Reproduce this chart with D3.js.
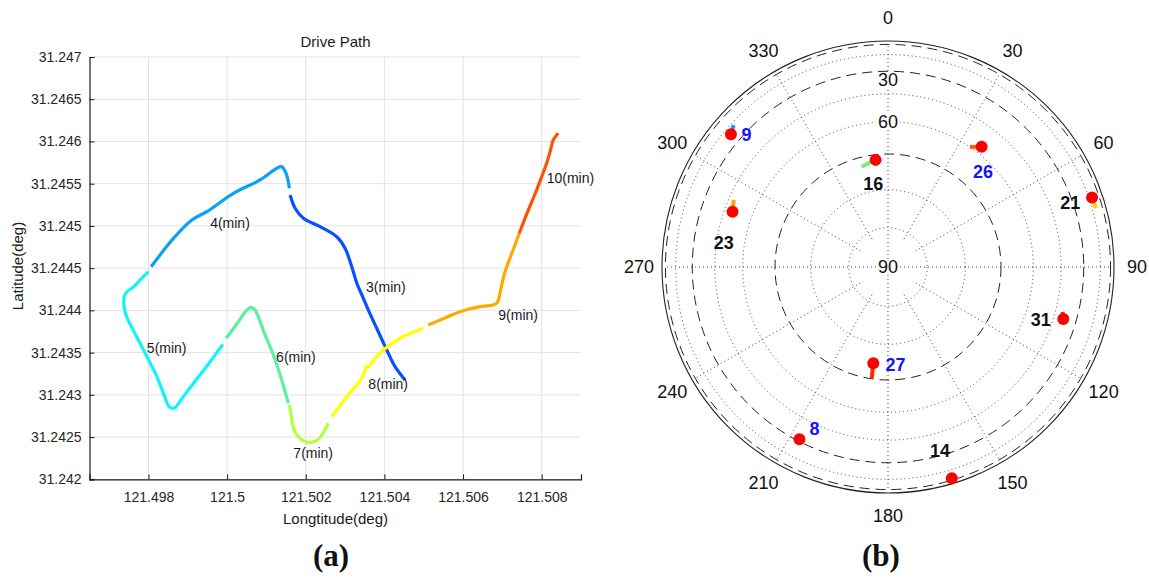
<!DOCTYPE html>
<html><head><meta charset="utf-8">
<script src="https://cdn.jsdelivr.net/npm/d3@7"></script>
<style>
body{margin:0;background:#fff;}
svg{display:block;}
text{font-family:"Liberation Sans",Arial,Helvetica,sans-serif;}
</style>
</head><body>
<svg id="chart" width="1149" height="578"></svg>
<script>
// ---------------- DATA ----------------
// (a) drive path, one array pair per minute
const minutes = [3, 4, 5, 6, 7, 8, 9, 10];
const lon3 = [121.504525,121.504271,121.504060,121.503805,121.503592,121.503465,121.503297,121.503170,121.503000,121.502789,121.502364,121.501940,121.501729,121.501602];
const lat3 = [31.243176,31.243333,31.243531,31.243788,31.244004,31.244143,31.244324,31.244517,31.244735,31.244872,31.244991,31.245090,31.245209,31.245366];
const lon4 = [121.501584,121.501500,121.501391,121.501297,121.500839,121.500160,121.499484,121.499103,121.498635,121.498373,121.498068];
const lat4 = [31.245445,31.245623,31.245701,31.245692,31.245544,31.245386,31.245168,31.245070,31.244853,31.244703,31.244517];
const lon5 = [121.498000,121.497789,121.497618,121.497471,121.497395,121.497369,121.497395,121.497458,121.497662,121.497873,121.498213,121.498424,121.498513,121.498595,121.498691,121.498806,121.499144,121.499568,121.499891];
const lat5 = [31.244458,31.244360,31.244277,31.244229,31.244182,31.244099,31.244004,31.243910,31.243720,31.243531,31.243215,31.242963,31.242868,31.242841,31.242856,31.242927,31.243137,31.243392,31.243598];
const lon6 = [121.499975,121.500229,121.500501,121.500603,121.500687,121.500755,121.500966,121.501177,121.501373,121.501558];
const lat6 = [31.243669,31.243827,31.244004,31.244036,31.244016,31.243965,31.243709,31.243472,31.243199,31.242900];
const lon7 = [121.501584,121.501627,121.501665,121.501772,121.501907,121.502110,121.502321,121.502440,121.502575];
const lat7 = [31.242880,31.242761,31.242643,31.242525,31.242465,31.242433,31.242474,31.242548,31.242663];
const lon8 = [121.502662,121.503043,121.503424,121.503495,121.503551,121.503610,121.503686,121.503973,121.504398,121.504990];
const lat8 = [31.242741,31.242978,31.243196,31.243270,31.243341,31.243336,31.243389,31.243531,31.243669,31.243788];
const lon9 = [121.505117,121.505542,121.505923,121.506431,121.506769,121.506863,121.506914,121.506983,121.507067,121.507194,121.507321,121.507430];
const lat9 = [31.243827,31.243910,31.243984,31.244044,31.244064,31.244087,31.244147,31.244300,31.244454,31.244620,31.244774,31.244913];
const lon10 = [121.507430,121.507651,121.507872,121.508007,121.508127,121.508211,121.508294,121.508363,121.508422];
const lat10 = [31.244913,31.245177,31.245425,31.245591,31.245741,31.245875,31.246017,31.246065,31.246097];

// minute label anchors (lon, lat)
const minuteLabelText = ["3(min)","4(min)","5(min)","6(min)","7(min)","8(min)","9(min)","10(min)"];
const minuteLabelLon = [121.503533,121.499568,121.497959,121.501246,121.501685,121.503592,121.506896,121.508127];
const minuteLabelLat = [31.244277,31.245035,31.243551,31.243452,31.242308,31.243128,31.243945,31.245564];

const xTicks = [121.498, 121.5, 121.502, 121.504, 121.506, 121.508];
const xTickLabels = ["121.498","121.5","121.502","121.504","121.506","121.508"];
const yTicks = [31.242, 31.2425, 31.243, 31.2435, 31.244, 31.2445, 31.245, 31.2455, 31.246, 31.2465, 31.247];
const yTickLabels = ["31.242","31.2425","31.243","31.2435","31.244","31.2445","31.245","31.2455","31.246","31.2465","31.247"];

// (b) sky plot
const satIds = ["9","16","26","21","23","31","27","8","14"];
const satAz  = [310.2, 353.4, 37.9, 71.2, 289.6, 106.5, 188.7, 207.2, 163.2];
const satEl  = [24.5, 61.5, 47.6, 17.5, 43.1, 36.0, 64.5, 31.0, 12.4];
const satFlag = [1, 0, 1, 0, 0, 0, 1, 1, 0];
const trackAz = [312.6, 345.3, 34.3, 74.2, 293.5, 104.4, 188.3, null, null];
const trackEl = [21.9, 62.7, 50.0, 17.0, 41.9, 37.1, 60.1, null, null];
const azTicks = [0, 30, 60, 90, 120, 150, 180, 210, 240, 270, 300, 330];
const dottedRingEl = [80, 70, 50, 40, 20];
const dashedRingEl = [60, 30, 10];
const elevLabels = ["30", "60", "90"];

// ---------------- STYLE / LAYOUT ----------------
const minuteColors = ["#0a50ff","#0aa2f5","#10f4ff","#5cf0a0","#b4ff3c","#ffff00","#ffa800","#ff5200"];
const trackColors = ["#1e96ff","#78f078","#ff5a14","#ffd400","#ffa000","#ff2a00","#ff2a00"];
const labelOffsets = {"9":[15.7,0.7],"16":[-2.4,24],"26":[1.3,25.6],"21":[-21.7,5],"23":[-8.7,31.6],"31":[-22.6,1],"27":[22.2,1.7],"8":[15,-10.3],"14":[-11.7,-27.6]};

const svg = d3.select("#chart");

// ---------------- (a) ----------------
const x = d3.scaleLinear().domain([121.4965, 121.509]).range([89.5, 581]);
const y = d3.scaleLinear().domain([31.242, 31.247]).range([479.3, 57]);

const ga = svg.append("g");
// grid
ga.append("g").selectAll("line").data(xTicks).join("line")
  .attr("x1", d => x(d)).attr("x2", d => x(d)).attr("y1", y(31.247)).attr("y2", y(31.242))
  .attr("stroke", "#e3e3e3").attr("stroke-width", 1);
ga.append("g").selectAll("line").data(yTicks).join("line")
  .attr("x1", x.range()[0]).attr("x2", x.range()[1]).attr("y1", d => y(d)).attr("y2", d => y(d))
  .attr("stroke", "#e3e3e3").attr("stroke-width", 1);

// axes
const xAxis = d3.axisBottom(x).tickValues(xTicks).tickFormat((d, i) => xTickLabels[i]).tickSize(-5).tickPadding(13);
const yAxis = d3.axisLeft(y).tickValues(yTicks).tickFormat((d, i) => yTickLabels[i]).tickSize(-5).tickPadding(8);
const gx = ga.append("g").attr("transform", `translate(0,${y(31.242)})`).call(xAxis);
const gy = ga.append("g").attr("transform", `translate(${x(121.4965)},0)`).call(yAxis);
[gx, gy].forEach(g => {
  g.select(".domain").attr("stroke", "#1a1a1a").attr("stroke-width", 1.2);
  g.selectAll(".tick line").attr("stroke", "#1a1a1a");
  g.selectAll(".tick text").attr("fill", "#262626").style("font-size", "14px").attr("font-family", null);
});
gy.selectAll(".tick text").attr("x", -8);

// path segments
const segLon = [lon3, lon4, lon5, lon6, lon7, lon8, lon9, lon10];
const segLat = [lat3, lat4, lat5, lat6, lat7, lat8, lat9, lat10];
const line = d3.line().x(d => x(d[0])).y(d => y(d[1])).curve(d3.curveCatmullRom.alpha(0.5));
ga.append("g").selectAll("path").data(minutes).join("path")
  .attr("d", (m, i) => line(segLon[i].map((v, j) => [v, segLat[i][j]])))
  .attr("fill", "none").attr("stroke", (m, i) => minuteColors[i])
  .attr("stroke-width", 3.2).attr("stroke-linejoin", "round").attr("stroke-linecap", "butt");

// minute labels
ga.append("g").selectAll("text").data(minuteLabelText).join("text")
  .attr("x", (d, i) => x(minuteLabelLon[i])).attr("y", (d, i) => y(minuteLabelLat[i]))
  .attr("dominant-baseline", "central").style("font-size", "14px").attr("fill", "#1a1a1a")
  .text(d => d);

// titles
ga.append("text").attr("x", 335.5).attr("y", 47).attr("text-anchor", "middle")
  .style("font-size", "15px").attr("fill", "#1a1a1a").text("Drive Path");
ga.append("text").attr("x", 335.5).attr("y", 524).attr("text-anchor", "middle")
  .style("font-size", "15px").attr("fill", "#1a1a1a").text("Longtitude(deg)");
ga.append("text").attr("transform", "translate(23,266) rotate(-90)").attr("text-anchor", "middle")
  .style("font-size", "15px").attr("fill", "#1a1a1a").text("Latitude(deg)");
svg.append("text").attr("x", 331).attr("y", 566).attr("text-anchor", "middle")
  .style("font-family", "'Liberation Serif','Times New Roman',serif").style("font-weight", "bold")
  .style("font-size", "31px").attr("fill", "#111").text("(a)");

// ---------------- (b) ----------------
const cx = 888, cy = 267, R = 226;
const rScale = el => R * Math.cos(el * Math.PI / 180);
const pol = (az, r) => [cx + r * Math.sin(az * Math.PI / 180), cy - r * Math.cos(az * Math.PI / 180)];

const gb = svg.append("g");
// outer solid circle (elevation 0)
gb.append("circle").attr("cx", cx).attr("cy", cy).attr("r", rScale(0))
  .attr("fill", "none").attr("stroke", "#222").attr("stroke-width", 1.1);
gb.append("g").selectAll("circle").data(dashedRingEl).join("circle")
  .attr("cx", cx).attr("cy", cy).attr("r", d => rScale(d))
  .attr("fill", "none").attr("stroke", "#222").attr("stroke-width", 1).attr("stroke-dasharray", "10,6");
gb.append("g").selectAll("circle").data(dottedRingEl).join("circle")
  .attr("cx", cx).attr("cy", cy).attr("r", d => rScale(d))
  .attr("fill", "none").attr("stroke", "#444").attr("stroke-width", 1).attr("stroke-dasharray", "1,3");
// spokes
gb.append("g").selectAll("line").data(azTicks).join("line")
  .attr("x1", d => pol(d, d % 90 === 0 ? 0 : 32)[0]).attr("y1", d => pol(d, d % 90 === 0 ? 0 : 32)[1])
  .attr("x2", d => pol(d, rScale(10))[0]).attr("y2", d => pol(d, rScale(10))[1])
  .attr("stroke", "#444").attr("stroke-width", 1).attr("stroke-dasharray", "1,3");

// azimuth labels
gb.append("g").selectAll("text").data(azTicks).join("text")
  .attr("x", d => pol(d, 249)[0]).attr("y", d => pol(d, 249)[1])
  .attr("text-anchor", "middle").attr("dominant-baseline", "central")
  .style("font-size", "18px").attr("fill", "#111").text(d => String(d));

// elevation labels (with white background)
const elevLabelR = [187, 145, 0];
const elg = gb.append("g").selectAll("g").data(elevLabels).join("g")
  .attr("transform", (d, i) => `translate(${cx},${cy - elevLabelR[i]})`);
elg.append("rect").attr("x", -12).attr("y", -8).attr("width", 24).attr("height", 16).attr("fill", "#fff");
elg.append("text").attr("text-anchor", "middle").attr("dominant-baseline", "central")
  .style("font-size", "18px").attr("fill", "#111").text(d => d);

// satellite tracks
const tracks = satIds.map((id, i) => ({id, i})).filter(d => trackAz[d.i] !== null);
gb.append("g").selectAll("line").data(tracks).join("line")
  .attr("x1", d => pol(satAz[d.i], rScale(satEl[d.i]))[0]).attr("y1", d => pol(satAz[d.i], rScale(satEl[d.i]))[1])
  .attr("x2", d => pol(trackAz[d.i], rScale(trackEl[d.i]))[0]).attr("y2", d => pol(trackAz[d.i], rScale(trackEl[d.i]))[1])
  .attr("stroke", (d, k) => trackColors[k]).attr("stroke-width", 4);

// satellite dots
gb.append("g").selectAll("circle").data(satIds).join("circle")
  .attr("cx", (d, i) => pol(satAz[i], rScale(satEl[i]))[0])
  .attr("cy", (d, i) => pol(satAz[i], rScale(satEl[i]))[1])
  .attr("r", 6).attr("fill", "#ff0000");

// satellite labels
gb.append("g").selectAll("text").data(satIds).join("text")
  .attr("x", (d, i) => pol(satAz[i], rScale(satEl[i]))[0] + labelOffsets[d][0])
  .attr("y", (d, i) => pol(satAz[i], rScale(satEl[i]))[1] + labelOffsets[d][1])
  .attr("text-anchor", "middle").attr("dominant-baseline", "central")
  .style("font-size", "18px").style("font-weight", "bold")
  .attr("fill", (d, i) => satFlag[i] ? "#1414ff" : "#111").text(d => d);

svg.append("text").attr("x", 881).attr("y", 566).attr("text-anchor", "middle")
  .style("font-family", "'Liberation Serif','Times New Roman',serif").style("font-weight", "bold")
  .style("font-size", "31px").attr("fill", "#111").text("(b)");
</script>
</body></html>
